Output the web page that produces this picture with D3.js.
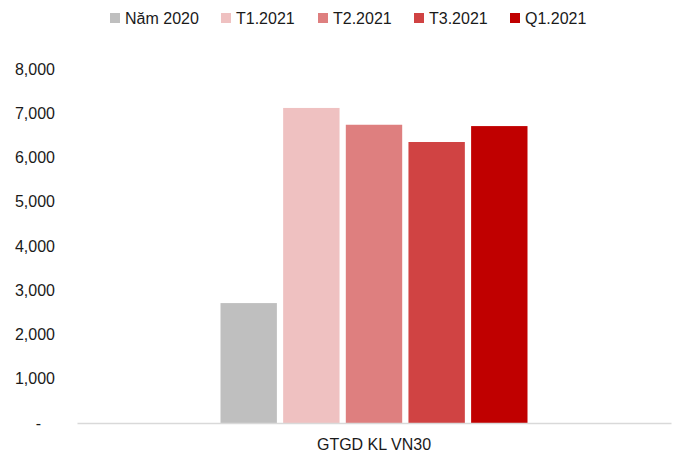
<!DOCTYPE html>
<meta charset="utf-8">
<script src="https://d3js.org/d3.v7.min.js"></script>
<style>
  body { margin: 0; background: #fff; }
  text { font-family: "Liberation Sans Narrow", "Arial Narrow", "Liberation Sans", sans-serif; fill: #1a1a1a; }
</style>
<div id="chart"></div>
<script>
  // data
  var categories = ["GTGD KL VN30"];
  var seriesNames = ["Năm 2020", "T1.2021", "T2.2021", "T3.2021", "Q1.2021"];
  var seriesValues = [2710, 7120, 6740, 6350, 6710];
  var seriesColors = ["#bfbfbf", "#efc1c1", "#de7f7f", "#d04343", "#c00000"];
  var yTicks = [0, 1000, 2000, 3000, 4000, 5000, 6000, 7000, 8000];

  var W = 673, H = 458;
  var margin = {top: 69, right: 2, bottom: 35, left: 77};

  var svg = d3.select("#chart").append("svg")
      .attr("width", W).attr("height", H);

  var x = d3.scaleBand().domain(categories).range([margin.left, W - margin.right]);
  var y = d3.scaleLinear().domain([0, 8000]).range([H - margin.bottom, margin.top]);

  // bars within the category
  var groupW = 307;
  var xSub = d3.scaleBand().domain(seriesNames)
      .range([x(categories[0]) + x.bandwidth() / 2 - groupW / 2, x(categories[0]) + x.bandwidth() / 2 + groupW / 2])
      .paddingInner(0.1);

  svg.append("g").selectAll("rect")
    .data(seriesNames)
    .enter().append("rect")
      .attr("x", function(d) { return xSub(d); })
      .attr("y", function(d, i) { return y(seriesValues[i]); })
      .attr("width", xSub.bandwidth())
      .attr("height", function(d, i) { return y(0) - y(seriesValues[i]); })
      .attr("fill", function(d, i) { return seriesColors[i]; });

  // y axis (labels only)
  var fmt = function(v) { return v === 0 ? "-" : d3.format(",")(v); };
  var yAxis = svg.append("g")
      .attr("transform", "translate(" + (margin.left - 22) + ",0)")
      .call(d3.axisLeft(y).tickValues(yTicks).tickFormat(fmt).tickSize(0).tickPadding(0));
  yAxis.select(".domain").remove();
  yAxis.selectAll("text").style("font-size", "16px").attr("fill", "#1a1a1a");
  yAxis.selectAll(".tick").filter(function(d) { return d === 0; }).select("text")
      .attr("x", -14);

  // x axis
  var xAxis = svg.append("g")
      .attr("transform", "translate(0," + y(0) + ")")
      .call(d3.axisBottom(x).tickSize(0).tickPadding(16));
  xAxis.select(".domain").attr("stroke", "#d9d9d9").attr("stroke-width", 1.5);
  xAxis.selectAll("text").style("font-size", "16px").attr("fill", "#1a1a1a");

  // legend
  var legendX = [110, 221, 318, 414, 510];
  var legend = svg.append("g").selectAll("g")
    .data(seriesNames)
    .enter().append("g")
      .attr("transform", function(d, i) { return "translate(" + legendX[i] + ",18)"; });
  legend.append("rect")
      .attr("x", 0).attr("y", -5)
      .attr("width", 10).attr("height", 10)
      .attr("fill", function(d, i) { return seriesColors[i]; });
  legend.append("text")
      .attr("x", 15).attr("y", 0).attr("dy", "0.35em")
      .style("font-size", "16px")
      .text(function(d) { return d; });
</script>
